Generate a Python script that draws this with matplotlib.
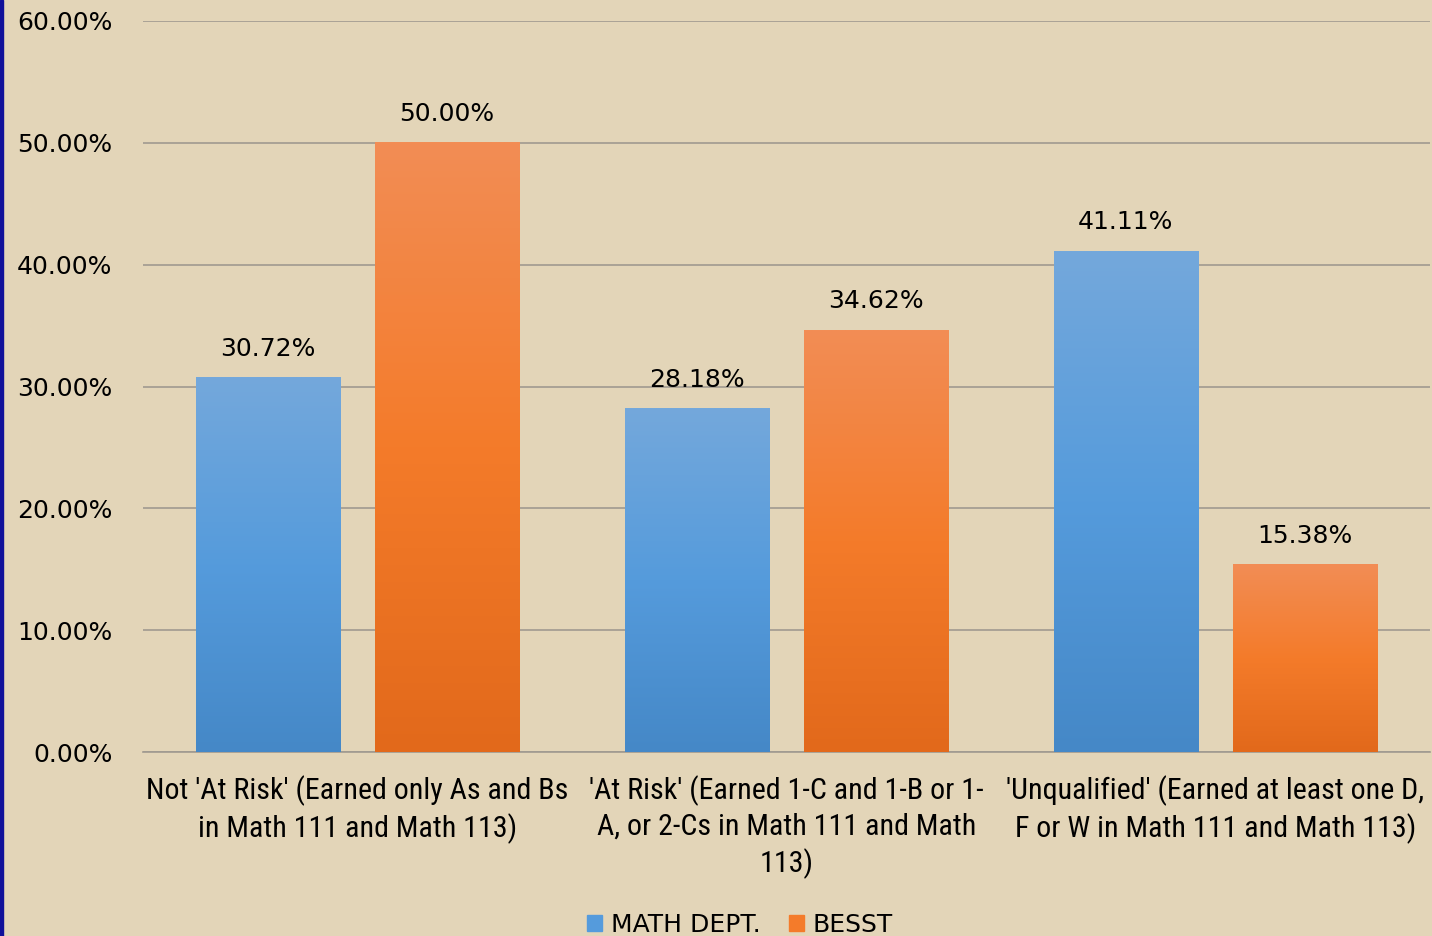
import numpy as np
import matplotlib
matplotlib.use("Agg")
import matplotlib.pyplot as plt
import matplotlib.patches as mpatches
from matplotlib.colors import LinearSegmentedColormap
from matplotlib import font_manager

# ── Data ──────────────────────────────────────────────────────────────────────
categories = [
    "Not 'At Risk' (Earned only As and Bs\nin Math 111 and Math 113)",
    "'At Risk' (Earned 1-C and 1-B or 1-\nA, or 2-Cs in Math 111 and Math\n113)",
    "'Unqualified' (Earned at least one D,\nF or W in Math 111 and Math 113)",
]
math_dept = [30.72, 28.18, 41.11]
besst = [50.00, 34.62, 15.38]
series_names = ["MATH DEPT.", "BESST"]
yticks = [0, 10, 20, 30, 40, 50, 60]

BG = "#E3D5B8"
BLUE_STOPS = ["#4588C7", "#559BDC", "#74A8DB"]     # bottom -> top
ORANGE_STOPS = ["#E2691B", "#F47B2A", "#F28D55"]

# a narrow face for the category labels, if one is installed
names = {f.name for f in font_manager.fontManager.ttflist}
narrow, label_size = "DejaVu Sans", 17
for cand, size in [("DejaVu Sans Condensed", 19.5), ("Liberation Sans Narrow", 21.5),
                   ("Roboto Condensed", 21.6)]:
    if cand in names:
        narrow, label_size = cand, size
        break

fig = plt.figure(figsize=(14.32, 9.36), dpi=100, facecolor=BG)
ax = fig.add_axes([143 / 1432, 1 - 752 / 936, (1430 - 143) / 1432, (752 - 21) / 936])
ax.set_facecolor(BG)

x = np.arange(len(categories))
width = 0.336
offset = 0.209

b1 = ax.bar(x - offset, math_dept, width, color="#559BDC", zorder=2)
b2 = ax.bar(x + offset, besst, width, color="#F47B2A", zorder=2)

# gradient fill on every bar
grad = np.linspace(0, 1, 256).reshape(-1, 1)
for bars, stops in [(b1, BLUE_STOPS), (b2, ORANGE_STOPS)]:
    cmap = LinearSegmentedColormap.from_list("g", stops)
    for p in bars:
        x0, w, h = p.get_x(), p.get_width(), p.get_height()
        ax.imshow(grad, cmap=cmap, origin="lower", aspect="auto",
                  extent=(x0, x0 + w, 0, h), zorder=3)

for bars, vals in [(b1, math_dept), (b2, besst)]:
    for p, v in zip(bars, vals):
        ax.text(p.get_x() + p.get_width() / 2, v + 1.4, f"{v:.2f}%",
                ha="center", va="bottom", fontsize=18, color="black")

ax.set_xlim(-0.5, len(categories) - 0.5)
ax.set_ylim(0, 60)
ax.set_yticks(yticks)
ax.set_yticklabels([f"{t:.2f}%" for t in yticks], fontsize=18)
ax.set_xticks(x)
ax.set_xticklabels(categories, fontsize=label_size, family=narrow, linespacing=1.3)
ax.tick_params(axis="both", length=0)
ax.tick_params(axis="y", pad=22)
ax.tick_params(axis="x", pad=17)
ax.yaxis.grid(True, color="#A09A90", linewidth=1.2, zorder=0)
ax.set_axisbelow(True)
for s in ["left", "right", "top"]:
    ax.spines[s].set_visible(False)
ax.spines["bottom"].set_color("#A09A90")
ax.spines["bottom"].set_linewidth(1.2)

# dark blue border on the left edge
fig.patches.append(mpatches.Rectangle((0, 0), 3 / 1432, 1, transform=fig.transFigure,
                                      color="#10109A", zorder=10))

handles = [mpatches.Patch(color="#559BDC", label=series_names[0]),
           mpatches.Patch(color="#F47B2A", label=series_names[1])]
fig.legend(handles=handles, loc="center", bbox_to_anchor=(740 / 1432, 1 - 925 / 936),
           ncol=2, frameon=False, fontsize=18, handlelength=0.6, handleheight=0.6,
           handletextpad=0.35, columnspacing=1.15, borderpad=0)

fig.savefig("out.png", dpi=100, facecolor=BG)
